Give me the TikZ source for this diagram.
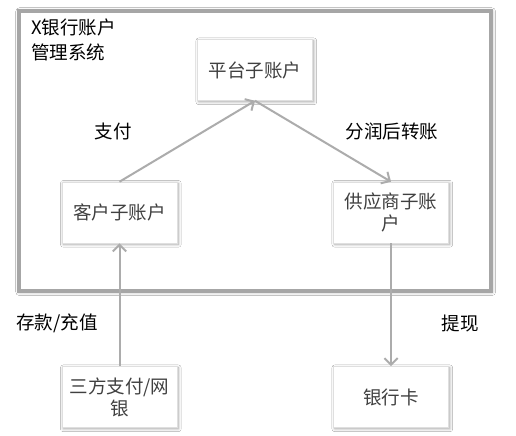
\documentclass[tikz,border=0pt]{standalone}
\usepackage{fontspec}
\setmainfont{Noto Sans CJK SC}
\usetikzlibrary{arrows.meta,shadows.blur}
\begin{document}
\begin{tikzpicture}[x=0.75pt,y=-0.75pt,
  box/.style={draw=gray!25, fill=white, minimum width=86.25pt, minimum height=45.75pt,
    inner sep=0pt, align=center, text=black!75, font=\fontsize{13.9}{16.5}\selectfont,
    blur shadow={shadow xshift=1pt, shadow yshift=-1pt, shadow blur steps=5, shadow opacity=35}},
  conn/.style={draw=gray!65, line width=1.5pt, -{Straight Barb[length=5pt,width=10pt]}},
  lbl/.style={font=\fontsize{13.9}{18.75}\selectfont, text=black, inner sep=0pt}]
\useasboundingbox[fill=white] (0,0) rectangle (516,435);
\node[draw=gray!70, line width=3pt, fill=white, minimum width=354pt, minimum height=210pt,
  inner sep=0pt, blur shadow={shadow xshift=0.5pt, shadow yshift=-0.5pt, shadow blur radius=3pt, shadow opacity=40}]
  (sys) at (255,151) {};
\node[lbl, anchor=north west, align=left] (title) at (31,19) {X银行账户\\管理系统};
\node[box] (plat) at (255,70) {平台子账户};
\node[box] (cust) at (119.5,212.5) {客户子账户};
\node[box] (supp) at (391,212.5) {供应商子账\\户};
\node[box] (third) at (119.5,397) {三方支付/网\\银};
\node[box] (bank) at (391,397) {银行卡};
\draw[conn] (cust.north) -- (plat.south);
\draw[conn] (plat.south) -- (supp.north);
\draw[conn] (third.north) -- (cust.south);
\draw[conn] (supp.south) -- (bank.north);
\node[lbl] (l1) at (113,131) {支付};
\node[lbl] (l2) at (392,131) {分润后转账};
\node[lbl] (l3) at (57,323) {存款/充值};
\node[lbl] (l4) at (460,323) {提现};
\end{tikzpicture}
\end{document}
